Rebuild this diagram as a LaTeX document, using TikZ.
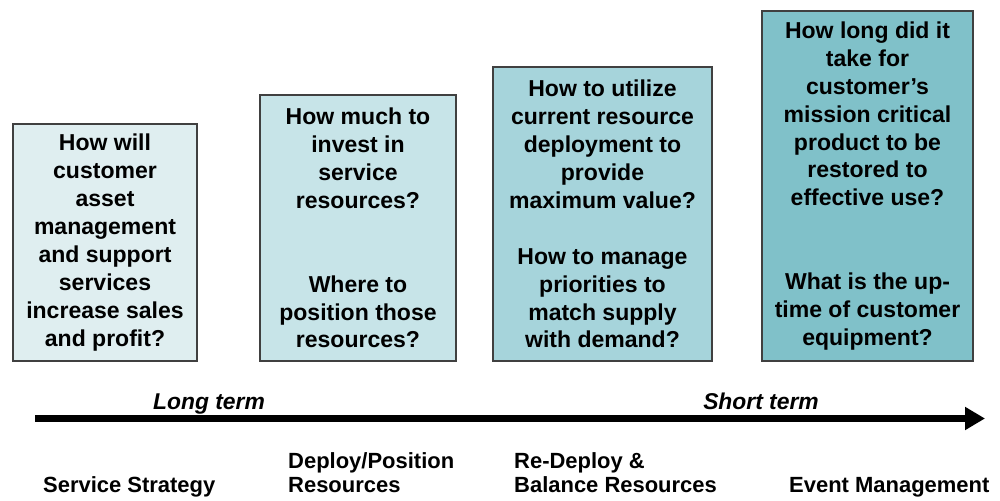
\documentclass[tikz,border=0pt]{standalone}
\usepackage{fontspec}
\setmainfont{Liberation Sans}
\usetikzlibrary{arrows.meta}
\definecolor{dfeef0}{rgb}{0.8745,0.9333,0.9412}
\definecolor{c7e4e8}{rgb}{0.7804,0.8941,0.9098}
\definecolor{a6d4db}{rgb}{0.6510,0.8314,0.8588}
\definecolor{80c1c9}{rgb}{0.5020,0.7569,0.7882}
\definecolor{qqqqqq}{rgb}{0.2510,0.2510,0.2510}
\tikzset{
  qbox/.style={draw=qqqqqq,line width=0.7pt,inner sep=0pt,align=center,
    font=\fontsize{13.1}{15.9}\selectfont\bfseries},
  steplabel/.style={anchor=base west,align=left,
    font=\fontsize{12.5}{14.2}\selectfont\bfseries},
  termlabel/.style={anchor=base,font=\fontsize{13}{15}\selectfont\bfseries\itshape}
}

\begin{document}
\begin{tikzpicture}[line cap=butt,line join=miter,x=1.0cm,y=1.0cm]
\useasboundingbox (0,0) rectangle (20,10.02);
% question boxes
\node[qbox,fill=dfeef0,minimum width=3.68cm,minimum height=4.74cm] (strategy) at (2.10,5.17)
  {How will\\customer\\asset\\management\\and support\\services\\increase sales\\and profit?};
\node[qbox,fill=c7e4e8,minimum width=3.92cm,minimum height=5.32cm] (deploy) at (7.16,5.46)
  {How much to\\invest in\\service\\resources?\\[31.8pt]Where to\\position those\\resources?};
\node[qbox,fill=a6d4db,minimum width=4.38cm,minimum height=5.88cm] (balance) at (12.05,5.74)
  {How to utilize\\current resource\\deployment to\\provide\\maximum value?\\[15.9pt]How to manage\\priorities to\\match supply\\with demand?};
\node[qbox,fill=80c1c9,minimum width=4.22cm,minimum height=7.00cm] (event) at (17.35,6.30)
  {How long did it\\take for\\customer’s\\mission critical\\product to be\\restored to\\effective use?\\[31.8pt]What is the up-\\time of customer\\equipment?};
% time axis
\coordinate (longend) at (0.70,1.65);
\coordinate (shortend) at (19.70,1.65);
\draw[line width=4pt,-{Triangle[length=0.4cm,width=0.44cm]}] (longend) -- (shortend);
\node[termlabel] (longterm) at (4.18,1.82) {Long term};
\node[termlabel] (shortterm) at (15.22,1.82) {Short term};
% stages
\node[steplabel] (s1) at (0.74,0.16) {Service Strategy};
\node[steplabel] (s2) at (5.64,0.16) {Deploy/Position\\Resources};
\node[steplabel] (s3) at (10.16,0.16) {Re-Deploy \&\\Balance Resources};
\node[steplabel] (s4) at (15.66,0.16) {Event Management};
\end{tikzpicture}
\end{document}
